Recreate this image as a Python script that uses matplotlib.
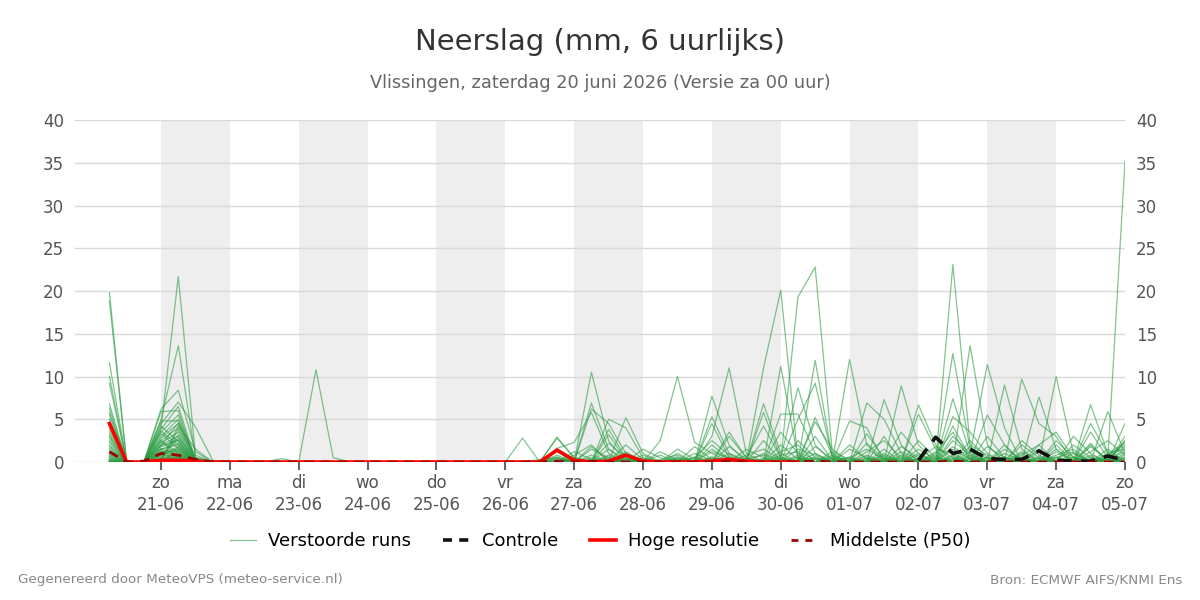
import numpy as np
import matplotlib
matplotlib.use("Agg")
import matplotlib.pyplot as plt
from matplotlib.lines import Line2D

# ========================================================= #
# ===  data ( 6-hourly, 20-06 06h .. 05-07 00h )         === #
# ========================================================= #
n_steps   = 60
t_start   = 0.25          # days after 20-06 00h
t_step    = 0.25

day_names = [ "zo", "ma", "di", "wo", "do", "vr", "za",
              "zo", "ma", "di", "wo", "do", "vr", "za", "zo" ]
day_dates = [ "21-06", "22-06", "23-06", "24-06", "25-06", "26-06", "27-06",
              "28-06", "29-06", "30-06", "01-07", "02-07", "03-07", "04-07", "05-07" ]

# --- perturbed members : {step index : mm}, other steps are 0 --- #
members = [
    {0:19.8, 3:2.0, 4:4.5, 5:0.5, 26:0.5, 28:6.9, 29:1.5, 35:3.0, 36:11.0, 37:1.0, 41:5.2, 42:0.8,
     49:23.1, 50:2.0, 51:0.8, 55:1.5, 57:6.7, 58:1.0, 59:1.5},
    {0:18.8, 3:4.0, 4:21.7, 5:0.8, 28:10.5, 29:2.5, 31:0.5, 38:11.0, 39:20.1, 40:0.3, 45:3.0, 47:1.0,
     51:5.5, 52:2.0, 54:7.6, 55:1.5, 59:2.5},
    {0:11.6, 3:5.9, 4:6.0, 26:2.9, 27:0.5, 30:5.2, 31:1.0, 33:1.0, 39:0.3, 40:19.3, 41:22.8, 42:1.0,
     47:6.7, 48:2.0, 50:13.6, 51:2.0, 53:1.0, 56:0.5, 58:0.3, 59:35.2},
    {0:10.0, 3:6.2, 4:8.4, 5:1.2, 28:6.2, 29:4.5, 30:1.0, 35:7.7, 36:2.0, 39:11.2, 40:0.5, 43:12.0,
     44:2.0, 46:3.5, 47:1.0, 49:12.7, 50:1.5, 53:9.7, 54:4.5, 55:3.0, 57:2.0, 59:4.5},
    {0:9.2, 3:5.0, 4:13.6, 5:0.5, 24:2.8, 32:2.5, 33:10.0, 34:2.3, 35:1.0, 38:6.8, 39:1.0, 41:11.9,
     42:0.5, 45:7.3, 46:2.0, 49:7.4, 50:1.0, 51:11.4, 52:4.0, 55:10.0, 56:1.0, 58:5.9, 59:1.0},
    {0:6.8, 3:4.8, 4:4.8, 5:0.3, 12:10.8, 13:0.5, 26:1.6, 27:2.3, 28:5.8, 29:1.0, 36:3.5, 37:0.5,
     39:5.6, 40:5.6, 41:1.0, 44:6.9, 45:5.0, 46:1.0, 49:4.2, 50:0.5, 52:9.0, 53:1.5, 57:4.5, 58:1.0},
    {0:6.3, 3:4.5, 4:7.0, 5:4.1, 6:0.2, 10:0.4, 29:5.0, 30:4.0, 31:0.5, 35:5.3, 36:1.0, 38:5.8, 39:0.5,
     40:8.7, 41:2.0, 43:4.8, 44:4.0, 46:8.9, 47:2.0, 49:5.3, 50:3.5, 51:1.0, 54:2.0, 55:3.5, 56:0.5, 59:2.5},
    {0:5.8, 3:3.8, 4:6.5, 5:0.3, 26:2.8, 27:0.5, 29:3.8, 30:0.5, 35:4.5, 36:0.5, 40:5.0, 41:9.2, 42:0.5,
     47:5.6, 48:1.5, 49:1.0, 53:2.0, 54:0.5, 56:3.0, 57:1.0},
    {0:5.5, 3:3.5, 4:5.5, 5:0.2, 26:1.2, 29:3.2, 30:0.3, 36:3.0, 37:0.5, 38:4.2, 39:0.5, 41:4.7, 42:1.5,
     44:3.3, 45:0.5, 49:3.0, 50:1.0, 52:2.0, 55:2.0, 57:3.5, 58:0.5, 59:1.8},
    {0:5.0, 3:3.0, 4:5.0, 5:0.5, 27:0.8, 28:2.0, 30:1.2, 33:0.5, 35:2.0, 36:0.3, 39:3.5, 40:1.0, 43:1.5,
     44:0.5, 47:2.5, 48:0.5, 50:2.5, 51:0.5, 54:1.5, 56:2.0, 57:0.5, 59:3.0},
    {0:4.6, 3:2.8, 4:4.5, 26:0.8, 28:1.5, 29:0.5, 32:0.8, 34:1.8, 35:0.3, 37:1.5, 38:0.5, 40:2.5, 41:0.5,
     44:1.2, 45:2.5, 46:0.5, 49:1.8, 50:0.5, 53:2.5, 54:0.8, 57:1.2, 58:2.5, 59:0.8},
    {0:4.2, 3:2.5, 4:4.0, 5:0.3, 25:0.3, 26:0.5, 29:1.5, 30:0.2, 33:1.5, 34:0.3, 36:1.8, 37:0.3, 39:1.2,
     40:2.0, 42:0.8, 45:1.5, 47:0.3, 48:1.8, 49:0.5, 51:3.0, 52:0.5, 55:0.8, 56:1.5, 58:1.0, 59:2.2},
    {0:3.8, 3:2.2, 4:3.5, 28:0.8, 30:2.0, 31:0.3, 35:1.2, 36:0.5, 38:2.5, 39:0.2, 41:3.0, 42:0.2, 44:0.8,
     46:1.8, 47:0.5, 50:1.2, 52:1.5, 53:0.3, 55:2.5, 56:0.5, 59:0.5},
    {0:3.5, 3:2.0, 4:3.0, 27:1.2, 28:0.3, 31:1.5, 32:0.5, 34:0.5, 35:2.5, 36:0.8, 39:2.0, 40:0.3, 43:0.5,
     44:1.5, 45:0.3, 48:1.0, 49:3.5, 50:0.2, 53:0.8, 54:2.0, 57:1.8, 58:0.3, 59:1.2},
    {0:3.2, 3:1.8, 4:2.5, 26:0.3, 29:2.2, 30:0.5, 33:0.3, 36:1.0, 37:0.2, 40:1.5, 41:0.8, 45:1.0, 47:1.5,
     48:0.3, 51:1.8, 52:0.5, 56:1.0, 58:1.5},
    {0:3.0, 3:1.5, 4:2.0, 28:1.8, 29:0.2, 32:0.3, 33:0.8, 35:0.5, 37:0.8, 38:1.5, 39:0.3, 42:1.2, 43:0.3,
     46:0.8, 49:2.5, 50:0.8, 53:0.5, 55:1.2, 57:0.3, 59:1.0},
    {0:2.8, 3:1.2, 4:1.5, 26:0.6, 30:1.0, 31:0.2, 34:1.0, 35:0.2, 39:0.8, 40:1.2, 41:0.3, 44:2.2, 45:0.3,
     48:0.8, 50:1.8, 51:0.3, 54:1.2, 56:0.3, 58:0.8, 59:2.0},
    {0:2.5, 3:1.0, 4:1.0, 27:0.5, 29:0.8, 33:0.4, 36:0.6, 38:1.0, 39:0.2, 41:1.8, 42:0.3, 46:1.2, 47:0.3,
     52:1.0, 53:0.2, 57:0.8, 59:0.3},
    {0:2.3, 3:0.8, 4:0.8, 28:0.5, 31:0.8, 35:1.5, 36:0.2, 40:0.8, 43:2.0, 44:0.3, 49:1.5, 50:0.3, 55:0.5,
     56:1.2, 58:0.2, 59:1.5},
    {0:2.0, 3:0.5, 4:0.5, 26:0.4, 29:0.6, 32:1.2, 33:0.2, 37:0.4, 38:0.8, 41:1.0, 45:0.8, 48:1.2, 51:0.6,
     53:1.2, 54:0.3, 57:2.2, 59:0.6},
    {0:1.8, 3:1.5, 4:2.2, 29:0.3, 36:0.4, 39:0.6, 44:0.6, 47:0.8, 50:0.4, 52:0.6, 58:0.6},
    {0:1.6, 3:0.8, 4:1.8, 28:0.3, 34:0.4, 40:0.4, 42:0.4, 46:0.4, 49:0.8, 55:0.4, 59:0.4},
    {0:1.4, 3:1.2, 4:1.2, 30:0.4, 35:0.6, 38:0.3, 41:0.6, 45:0.4, 51:0.4, 54:0.6, 57:0.4},
    {0:1.2, 3:0.6, 4:0.9, 27:0.2, 33:0.6, 37:0.3, 43:0.4, 48:0.4, 53:0.4, 56:0.6},
    {0:1.0, 3:0.4, 4:0.7, 26:0.2, 31:0.3, 36:0.2, 40:0.2, 44:0.2, 47:0.2, 50:0.6, 59:0.2},
    {0:0.9, 4:0.5, 29:0.2, 35:0.2, 39:0.4, 45:0.2, 52:0.3, 58:0.4},
    {0:0.8, 3:0.3, 28:0.2, 34:0.2, 41:0.4, 49:0.4, 55:0.2},
    {0:0.7, 4:0.3, 30:0.2, 38:0.2, 43:0.2, 51:0.2, 57:0.2},
    {0:0.6, 3:0.2, 32:0.2, 42:0.2, 46:0.2, 54:0.2},
    {0:0.5, 4:0.2, 37:0.2, 48:0.2, 53:0.2},
    {0:0.4, 3:0.9, 4:1.4, 44:0.3, 50:0.3},
    {0:0.3, 3:1.6, 4:0.6, 33:0.2, 47:0.4},
    {0:0.3, 3:2.4, 4:1.1, 40:0.1, 56:0.3},
    {0:0.2, 3:0.7, 4:2.8, 5:0.4, 45:0.6},
    {0:0.2, 3:3.3, 4:1.6, 52:0.4},
    {0:0.1, 3:0.3, 4:3.8, 5:0.2, 49:0.6},
    {3:1.9, 4:2.6, 30:0.3, 41:0.3, 55:0.6},
    {3:2.6, 4:0.4, 36:0.3, 46:0.6},
    {4:1.3, 29:0.4, 43:0.6, 58:0.3},
    {3:0.4, 4:3.2, 39:0.2, 51:0.5},
    {3:1.1, 27:0.3, 48:0.6},
    {4:0.9, 35:0.4, 54:0.4},
    {3:3.6, 4:2.0, 42:0.6},
    {4:4.2, 5:1.5, 38:0.4, 57:0.6},
    {3:0.2, 31:0.2, 44:0.4},
    {4:0.4, 37:0.5, 50:0.8},
    {3:1.4, 33:0.3, 53:0.6},
    {4:1.7, 40:0.6, 59:0.8},
    {3:4.2, 4:2.4, 45:0.2},
    {4:0.6, 34:0.6, 49:0.3},
]

# --- control run ( from 02-07 00h ) --- #
control_steps  = [ 47, 48, 49, 50, 51, 52, 53, 54, 55, 56, 57, 58, 59 ]
control_values = [ 0.2, 2.9, 1.0, 1.5, 0.4, 0.3, 0.3, 1.3, 0.2, 0.1, 0.1, 0.7, 0.2 ]

# --- high resolution run ( up to 30-06 12h ) --- #
hires_values = [ 4.5, 0.0, 0.0, 0.2, 0.2, 0.1, 0.0, 0.0, 0.0, 0.0,
                 0.0, 0.0, 0.0, 0.0, 0.0, 0.0, 0.0, 0.0, 0.0, 0.0,
                 0.0, 0.0, 0.0, 0.0, 0.0, 0.0, 1.4, 0.2, 0.0, 0.1,
                 0.8, 0.1, 0.0, 0.0, 0.0, 0.1, 0.3, 0.1, 0.0, 0.0, 0.0 ]

# --- median ( P50 ) --- #
p50_values = { 0:1.2, 2:0.1, 3:1.0, 4:0.8, 5:0.3, 26:0.1, 28:0.1, 36:0.1, 41:0.1, 49:0.1 }

# ========================================================= #
# ===  draw                                              === #
# ========================================================= #
times = t_start + t_step * np.arange( n_steps )

def to_series( d ):
    y = np.zeros( n_steps )
    for k, v in d.items(): y[k] = v
    return y

fig = plt.figure( figsize=(12, 6), dpi=100 )
ax  = fig.add_axes( [ 75/1200, 1-462/600, 1050/1200, 342/600 ] )

# --- alternating day shading --- #
for d in range( 1, 15, 2 ):
    ax.axvspan( d, d+1, color="#eeeeee", lw=0, zorder=0 )

ax.set_xlim( -0.25, 15.0 )
ax.set_ylim( 0, 40 )
ax.set_yticks( np.arange( 0, 41, 5 ) )
ax.yaxis.grid( True, color="#d9d9d9", lw=1.0, zorder=1 )
ax.set_axisbelow( True )

for m in members:
    ax.plot( times, to_series( m ), color="#2e9e44", alpha=0.6, lw=0.9, zorder=2 )

ax.plot( times[control_steps], control_values, color="#111111", lw=2.6,
         dashes=(4, 2.5), zorder=4 )
ax.plot( times[:len(hires_values)], hires_values, color="#ff0000", lw=2.6, zorder=5 )
ax.plot( times, to_series( p50_values ), color="#a00000", lw=2.0,
         dashes=(3.5, 2.5), zorder=6 )

# --- axes cosmetics --- #
for s in ax.spines.values(): s.set_visible( False )
ax.set_xticks( np.arange( 1, 16 ) )
ax.set_xticklabels( [ "{}\n{}".format( a, b ) for a, b in zip( day_names, day_dates ) ],
                    fontsize=12, color="#555555", linespacing=1.25 )
ax.tick_params( axis="x", length=6, width=1.5, color="#666666", pad=3 )
ax.tick_params( axis="y", length=0, labelsize=12, labelcolor="#555555", pad=8,
                labelright=True, right=False )

# --- titles --- #
fig.text( 0.5, 1-42/600, "Neerslag (mm, 6 uurlijks)", ha="center", va="center",
          fontsize=21, color="#333333" )
fig.text( 0.5, 1-83/600, "Vlissingen, zaterdag 20 juni 2026 (Versie za 00 uur)",
          ha="center", va="center", fontsize=12.75, color="#666666" )

# --- legend --- #
handles = [ Line2D( [], [], color="#2e9e44", alpha=0.6, lw=0.9 ),
            Line2D( [], [], color="#111111", lw=2.6, dashes=(2.5, 2) ),
            Line2D( [], [], color="#ff0000", lw=2.6 ),
            Line2D( [], [], color="#a00000", lw=2.0, dashes=(2.5, 2.5) ) ]
labels  = [ "Verstoorde runs", "Controle", "Hoge resolutie", "Middelste (P50)" ]
fig.legend( handles, labels, loc="center", bbox_to_anchor=( 0.5, 1-541/600 ),
            ncol=4, frameon=False, fontsize=13, handlelength=1.45, columnspacing=1.75,
            handletextpad=0.7 )

# --- footer --- #
fig.text( 18/1200, 1-580/600, "Gegenereerd door MeteoVPS (meteo-service.nl)",
          ha="left", va="center", fontsize=9.7, color="#888888" )
fig.text( 1182/1200, 1-580/600, "Bron: ECMWF AIFS/KNMI Ens",
          ha="right", va="center", fontsize=9.7, color="#888888" )

fig.savefig( "out.png", dpi=100 )
